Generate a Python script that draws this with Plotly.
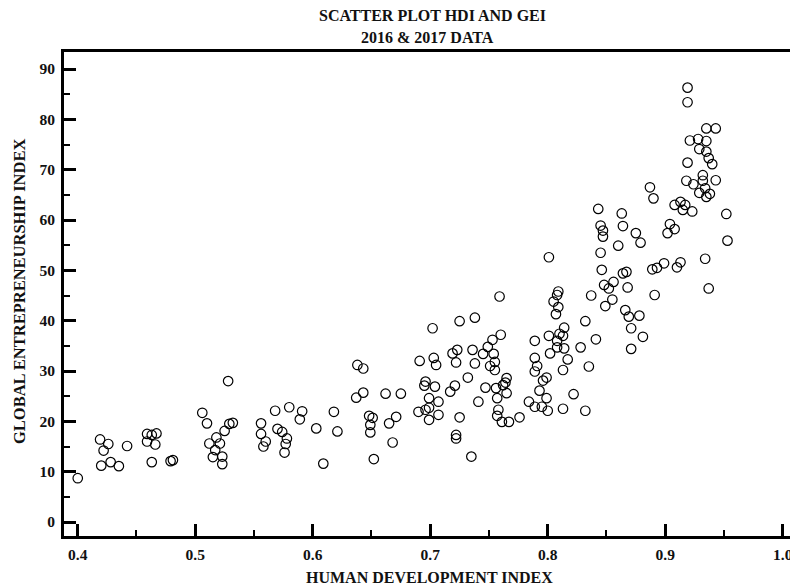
import plotly.graph_objects as go

# Human Development Index (x) and Global Entrepreneurship Index (y)
hdi = [
    0.400, 0.419, 0.426, 0.422, 0.420, 0.428, 0.435, 0.442, 0.459, 0.467,
    0.463, 0.459, 0.466, 0.463, 0.479, 0.481, 0.506, 0.510, 0.512, 0.518,
    0.521, 0.517, 0.523, 0.515, 0.523, 0.525, 0.529, 0.532, 0.528, 0.556,
    0.556, 0.560, 0.558, 0.568, 0.580, 0.570, 0.574, 0.578, 0.577, 0.576,
    0.591, 0.589, 0.603, 0.609, 0.618, 0.621, 0.638, 0.643, 0.643, 0.637,
    0.662, 0.675, 0.648, 0.651, 0.649, 0.649, 0.652, 0.671, 0.665, 0.668,
    0.691, 0.702, 0.703, 0.705, 0.696, 0.695, 0.704, 0.699, 0.699, 0.690,
    0.696, 0.699, 0.707, 0.707,
    0.725, 0.722, 0.722, 0.735, 0.719, 0.723, 0.722, 0.736, 0.738, 0.732,
    0.717, 0.721, 0.741, 0.747, 0.753, 0.760, 0.749, 0.745, 0.754, 0.755,
    0.751, 0.755, 0.756, 0.765, 0.764, 0.762, 0.765, 0.757, 0.758, 0.757,
    0.761, 0.767, 0.776, 0.759, 0.725, 0.738,
    0.801, 0.809, 0.808, 0.805, 0.809, 0.807, 0.814, 0.801, 0.810, 0.813,
    0.808, 0.789, 0.814, 0.808, 0.802, 0.817, 0.789, 0.791, 0.789, 0.813,
    0.799, 0.796, 0.793, 0.799, 0.784, 0.789, 0.795, 0.800, 0.813, 0.822,
    0.832, 0.832, 0.841, 0.828, 0.835, 0.837,
    0.843, 0.863, 0.864, 0.845, 0.847, 0.847, 0.875, 0.879, 0.860, 0.845,
    0.846, 0.864, 0.867, 0.856, 0.848, 0.852, 0.868, 0.855, 0.849, 0.866,
    0.869, 0.878, 0.871, 0.881, 0.871, 0.891, 0.889, 0.893, 0.899, 0.910,
    0.913, 0.934, 0.937, 0.904, 0.908, 0.902, 0.887, 0.890, 0.908, 0.913,
    0.917, 0.915, 0.923, 0.952, 0.953, 0.919, 0.919, 0.935, 0.943, 0.921,
    0.928, 0.935, 0.929, 0.935, 0.937, 0.940, 0.919, 0.918, 0.924, 0.932,
    0.932, 0.943, 0.934, 0.929, 0.935, 0.938,
]
gei = [
    8.7, 16.4, 15.5, 14.2, 11.2, 11.9, 11.1, 15.1, 17.5, 17.6,
    17.3, 16.0, 15.4, 11.9, 12.1, 12.3, 21.7, 19.6, 15.6, 16.8,
    15.6, 14.3, 13.0, 12.9, 11.5, 18.1, 19.5, 19.7, 28.0, 19.6,
    17.5, 16.0, 15.0, 22.1, 22.8, 18.5, 17.9, 16.6, 15.5, 13.8,
    22.0, 20.4, 18.6, 11.6, 21.9, 18.0, 31.2, 30.5, 25.7, 24.7,
    25.5, 25.5, 21.1, 20.7, 19.3, 17.8, 12.5, 20.9, 19.6, 15.8,
    32.0, 38.5, 32.6, 31.2, 27.9, 27.1, 26.9, 24.6, 22.7, 21.9,
    22.3, 20.3, 23.9, 21.3,
    20.8, 17.3, 16.6, 13.0, 33.5, 34.2, 31.7, 34.2, 31.5, 28.7,
    25.9, 27.1, 23.9, 26.7, 36.2, 37.2, 34.8, 33.4, 33.4, 31.8,
    31.0, 30.2, 26.6, 28.6, 27.7, 27.2, 25.6, 24.6, 22.3, 21.1,
    19.9, 19.9, 20.8, 44.8, 39.9, 40.6,
    52.6, 45.8, 45.1, 43.8, 42.7, 41.3, 38.6, 37.0, 37.4, 37.0,
    36.0, 36.0, 34.5, 34.7, 33.5, 32.3, 32.6, 31.0, 29.9, 30.2,
    28.7, 28.1, 26.1, 24.6, 23.9, 22.9, 22.9, 22.1, 22.5, 25.4,
    22.1, 39.9, 36.3, 34.7, 30.9, 45.0,
    62.2, 61.3, 58.8, 58.9, 57.9, 56.7, 57.4, 55.5, 54.9, 53.5,
    50.1, 49.4, 49.7, 47.7, 47.1, 46.4, 46.6, 44.2, 42.9, 42.1,
    40.8, 41.0, 38.5, 36.8, 34.4, 45.1, 50.2, 50.5, 51.4, 50.6,
    51.6, 52.3, 46.4, 59.2, 58.2, 57.4, 66.5, 64.3, 63.0, 63.6,
    63.0, 62.0, 61.7, 61.2, 55.9, 86.3, 83.4, 78.2, 78.2, 75.8,
    76.1, 75.7, 74.1, 73.6, 72.3, 71.1, 71.4, 67.8, 67.1, 68.9,
    67.8, 67.9, 66.3, 65.4, 64.6, 65.2,
]

title_line1 = "SCATTER PLOT HDI AND GEI"
title_line2 = "2016 &amp; 2017 DATA"
x_title = "HUMAN DEVELOPMENT INDEX"
y_title = "GLOBAL ENTREPRENEURSHIP INDEX"

W, H = 790, 588
L, R, T, B = 64, 0, 52, 52
serif = "Liberation Serif, Times New Roman, serif"
ink = "#111111"

fig = go.Figure()
fig.add_trace(go.Scatter(
    x=hdi, y=gei, mode="markers",
    marker=dict(symbol="circle-open", size=9.5, color="black",
                line=dict(width=1.2, color="black")),
    hoverinfo="x+y", showlegend=False,
))

axis_common = dict(
    showgrid=False, zeroline=False,
    showline=True, linecolor="black", linewidth=3,
    ticks="inside", ticklen=12, tickwidth=3, tickcolor="black",
    tickfont=dict(family=serif, size=15.5, color=ink, weight="bold"),
    ticklabeloverflow="allow",
)

fig.update_xaxes(
    **axis_common,
    range=[0.3883, 1.0062], tick0=0.4, dtick=0.1, tickformat=".1f",
    mirror=True, ticklabelstandoff=2,
    minor=dict(ticks="inside", ticklen=6, tickwidth=2, tickcolor="black", dtick=0.05, tick0=0.35),
)
fig.update_yaxes(
    **axis_common,
    range=[-2.78, 93.38], tick0=0, dtick=10, ticklabelstandoff=3,
    minor=dict(ticks="inside", ticklen=6, tickwidth=2, tickcolor="black", dtick=5, tick0=0),
)

def py(pix):
    # convert pixel row to paper y
    return (H - B - pix) / (H - T - B)

def px(pix):
    return (pix - L) / (W - L - R)

ann_font = dict(family=serif, size=16, color=ink, weight="bold")
fig.update_layout(
    width=W, height=H,
    margin=dict(l=L, r=R, t=T, b=B, autoexpand=False),
    plot_bgcolor="white", paper_bgcolor="white",
    annotations=[
        dict(text=title_line1, x=px(432), y=py(15), xref="paper", yref="paper",
             showarrow=False, xanchor="center", yanchor="middle", font=ann_font),
        dict(text=title_line2, x=px(427), y=py(38), xref="paper", yref="paper",
             showarrow=False, xanchor="center", yanchor="middle", font=ann_font),
        dict(text=x_title, x=px(429), y=py(577), xref="paper", yref="paper",
             showarrow=False, xanchor="center", yanchor="middle",
             font=dict(family=serif, size=16, color=ink, weight="bold")),
        dict(text=y_title, x=px(19), y=py(292), xref="paper", yref="paper",
             showarrow=False, xanchor="center", yanchor="middle", textangle=-90,
             font=dict(family=serif, size=16.5, color=ink, weight="bold")),
    ],
)

fig.write_html(
    "out.html",
    config={"displayModeBar": False},
    post_script="document.body.style.margin='0';document.body.style.overflow='hidden';",
)
